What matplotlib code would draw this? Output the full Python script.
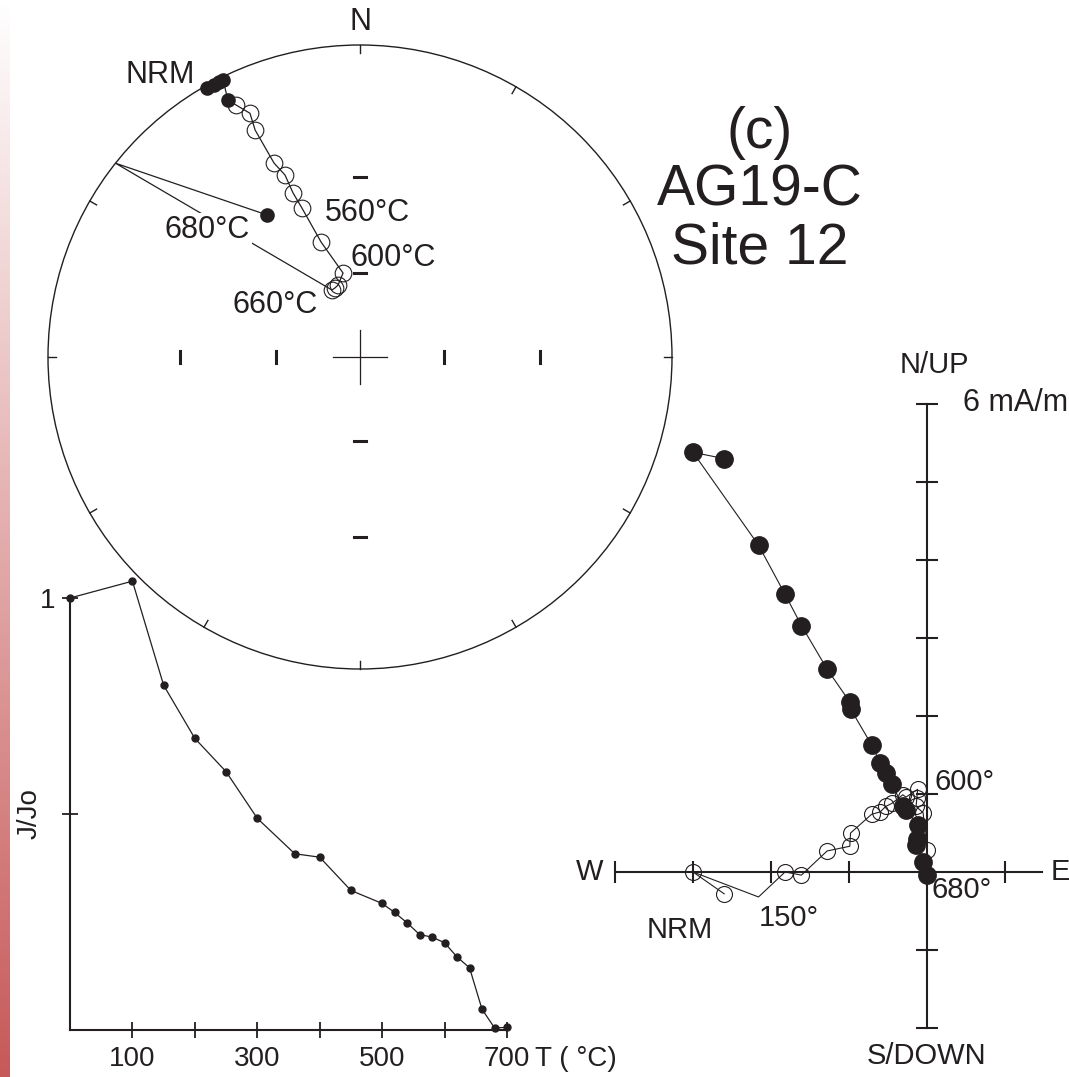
import numpy as np
import matplotlib
matplotlib.use('Agg')
import matplotlib.pyplot as plt
from matplotlib.patches import Circle

plt.rcParams['font.family'] = ['Liberation Sans', 'DejaVu Sans']
INK = '#231f20'

# ---- thermal demagnetisation steps (deg C) and normalised intensity
temps = [0, 100, 150, 200, 250, 300, 360, 400, 450, 500, 520, 540, 560, 580, 600, 620, 640, 660, 680, 700]
j_jo = [1.0, 1.039, 0.798, 0.675, 0.598, 0.490, 0.408, 0.400, 0.323, 0.293, 0.272, 0.248,
        0.221, 0.215, 0.202, 0.169, 0.144, 0.048, 0.005, 0.006]

# ---- stereonet directions (declination, inclination), path order
ster_dec = [330.4, 331.8, 332.9, 333.7, 332.8, 333.8, 335.7, 335.2, 336.1, 337.6, 337.8,
            338.7, 341.3, 348.6, 343.0, 340.1, 337.3, 308.4, 326.8]
ster_inc = [0.5, 0.6, 0.5, 0.5, 4.4, -6.0, -8.8, -12.6, -21.6, -25.5, -30.8,
            -35.7, -47.5, -59.3, -62.9, -63.5, -63.8, 0.0, 32.9]

# ---- Zijderveld components (mA/m), steps NRM..680
zij_e = [-3.00, -2.60, -2.16, -1.82, -1.61, -1.28, -0.99, -0.98, -0.71, -0.60,
         -0.53, -0.45, -0.31, -0.27, -0.12, -0.13, -0.14, -0.05, 0.00]
zij_n = [5.38, 5.30, 4.19, 3.56, 3.16, 2.60, 2.18, 2.09, 1.63, 1.40,
         1.27, 1.13, 0.84, 0.80, 0.60, 0.42, 0.34, 0.13, -0.04]
zij_up = [0.00, -0.28, -0.32, 0.00, -0.04, 0.27, 0.33, 0.50, 0.74, 0.77,
          0.84, 0.88, 0.99, 0.96, 1.06, 0.95, 0.84, 0.76, 0.28]
zij_open_hidden = [2]

W, H = 1069, 1077
fig = plt.figure(figsize=(W / 100, H / 100), dpi=100)


def px_axes(x0, y0, x1, y1):
    ax = fig.add_axes([x0 / W, 1 - y1 / H, (x1 - x0) / W, (y1 - y0) / H])
    ax.set_facecolor('none')
    return ax


def wulff(dec, inc):
    dec = np.radians(np.asarray(dec))
    rho = np.tan(np.radians(90 - np.abs(np.asarray(inc))) / 2)
    return rho * np.sin(dec), rho * np.cos(dec)


# red gradient strip on the left edge
ax_s = px_axes(0, 0, 10, H)
grad = np.linspace(0, 1, 256)[:, None]
top = np.array([1.0, 1.0, 1.0])
bot = np.array([0.78, 0.35, 0.35])
img = top + (bot - top) * grad[:, :, None]
ax_s.imshow(img, aspect='auto', extent=(0, 1, 0, 1), origin='upper')
ax_s.axis('off')

# ---------------- J/Jo decay curve
ax_j = px_axes(70, 598, 507, 1030)
ax_j.plot(temps, j_jo, color=INK, lw=0.9, marker='o', ms=5, mfc=INK, mec=INK, clip_on=False, zorder=3)
ax_j.set_xlim(0, 700)
ax_j.set_ylim(0, 1)
for s in ['top', 'right']:
    ax_j.spines[s].set_visible(False)
for s in ['left', 'bottom']:
    ax_j.spines[s].set_linewidth(1.5)
    ax_j.spines[s].set_color(INK)
ax_j.set_xticks([100, 200, 300, 400, 500, 600, 700])
ax_j.set_xticklabels(['100', '', '300', '', '500', '', '700'])
ax_j.set_yticks([0.5, 1.0])
ax_j.set_yticklabels(['', '1'])
ax_j.tick_params(direction='inout', length=11, width=1.3, color=INK, labelsize=20,
                 labelcolor=INK)
ax_j.tick_params(axis='x', pad=6)
ax_j.tick_params(axis='y', pad=5)
ax_j.text(745, -0.067, 'T ( °C)', fontsize=20, color=INK, ha='left', va='center', clip_on=False)
ax_j.text(-64, 0.5, 'J/Jo', fontsize=20, color=INK, rotation=90, ha='center', va='center', clip_on=False)

# ---------------- stereonet (Wulff net)
R = 312
cx, cy = 360, 357
ax_st = px_axes(cx - 1.1 * R, cy - 1.1 * R, cx + 1.1 * R, cy + 1.1 * R)
ax_st.set_xlim(-1.1, 1.1)
ax_st.set_ylim(-1.1, 1.1)
ax_st.axis('off')
ax_st.add_patch(Circle((0, 0), 1, fill=False, lw=1.0, ec=INK))
for az in range(0, 360, 30):
    a = np.radians(az)
    ax_st.plot([0.975 * np.sin(a), np.sin(a)], [0.975 * np.cos(a), np.cos(a)], color=INK, lw=1.0)
ax_st.plot([-0.085, 0.085], [0, 0], color=INK, lw=0.9)
ax_st.plot([0, 0], [-0.085, 0.085], color=INK, lw=0.9)
for inc in (30, 60):
    r = np.tan(np.radians(90 - inc) / 2)
    for sgn in (-1, 1):
        ax_st.plot([sgn * r, sgn * r], [-0.019, 0.019], color=INK, lw=2.2)
        ax_st.plot([-0.019, 0.019], [sgn * r, sgn * r], color=INK, lw=2.2)

sx, sy = wulff(ster_dec, ster_inc)
inc_arr = np.asarray(ster_inc)
ax_st.plot(sx, sy, color=INK, lw=0.9, zorder=2)
down = inc_arr > 0
up = inc_arr < 0
ax_st.plot(sx[up], sy[up], 'o', ms=12, mfc='none', mec=INK, mew=0.8, zorder=3)
ax_st.plot(sx[down], sy[down], 'o', ms=9.5, mfc=INK, mec=INK, zorder=4)

tkw = dict(fontsize=22, color=INK, va='center')
ax_st.text(0, 1.074, 'N', ha='center', **tkw)
ax_st.text(-0.529, 0.904, 'NRM', ha='right', **tkw)
ax_st.text(-0.112, 0.462, '560°C', ha='left', **tkw)
ax_st.text(-0.029, 0.317, '600°C', ha='left', **tkw)
ax_st.text(-0.41, 0.167, '660°C', ha='left', **tkw)
ax_st.text(-0.625, 0.407, '680°C', ha='left', zorder=5,
           bbox=dict(fc='white', ec='none', pad=1.5), **tkw)

# ---------------- Zijderveld diagram
ox, oy, u = 927, 872, 78
x0, x1, y0, y1 = 560, 1069, 340, 1077
ax_z = px_axes(x0, y0, x1, y1)
ax_z.set_xlim((x0 - ox) / u, (x1 - ox) / u)
ax_z.set_ylim((oy - y1) / u, (oy - y0) / u)
for s in ['top', 'right']:
    ax_z.spines[s].set_visible(False)
ax_z.spines['left'].set_position(('data', 0))
ax_z.spines['bottom'].set_position(('data', 0))
ax_z.spines['bottom'].set_bounds(-4, 1.47)
ax_z.spines['left'].set_bounds(-2, 6)
for s in ['left', 'bottom']:
    ax_z.spines[s].set_linewidth(1.5)
    ax_z.spines[s].set_color(INK)
ax_z.set_xticks([-4, -3, -2, -1, 1])
ax_z.set_yticks([-2, -1, 1, 2, 3, 4, 5, 6])
ax_z.tick_params(direction='inout', length=16, width=1.5, color=INK,
                 labelbottom=False, labelleft=False)

ze = np.asarray(zij_e)
zn = np.asarray(zij_n)
zu = np.asarray(zij_up)
path = [0] + list(range(2, len(ze)))
ax_z.plot(ze[path], zn[path], color=INK, lw=0.8, zorder=2, clip_on=False)
ax_z.plot(ze[[0, 1]], zn[[0, 1]], color=INK, lw=0.8, zorder=2)
ax_z.plot(ze[path], zu[path], color=INK, lw=0.8, zorder=2)
ax_z.plot(ze[[0, 1]], zu[[0, 1]], color=INK, lw=0.8, zorder=2)
shown = [i for i in range(len(ze)) if i not in zij_open_hidden]
ax_z.plot(ze[shown], zu[shown], 'o', ms=11.5, mfc='none', mec=INK, mew=0.8, zorder=3)
ax_z.plot(ze, zn, 'o', ms=12.5, mfc=INK, mec=INK, zorder=4)

zkw = dict(fontsize=21, color=INK, va='center')
ax_z.text(-4.32, 0, 'W', ha='center', **zkw)
ax_z.text(1.71, 0, 'E', ha='center', **zkw)
ax_z.text(0.1, 6.5, 'N/UP', ha='center', **zkw)
ax_z.text(0.46, 6.01, '6 mA/m', ha='left', fontsize=22, color=INK, va='center')
ax_z.text(0, -2.36, 'S/DOWN', ha='center', **zkw)
ax_z.text(-3.17, -0.74, 'NRM', ha='center', **zkw)
ax_z.text(-2.16, -0.59, '150°', ha='left', **zkw)
ax_z.text(0.10, 1.15, '600°', ha='left', **zkw)
ax_z.text(0.06, -0.23, '680°', ha='left', **zkw)

# ---------------- title
for txt, ypx in [('(c)', 133), ('AG19-C', 190), ('Site 12', 248)]:
    fig.text(760 / W, 1 - ypx / H, txt, fontsize=41, color=INK, ha='center', va='center')

fig.savefig('out.png', dpi=100)
